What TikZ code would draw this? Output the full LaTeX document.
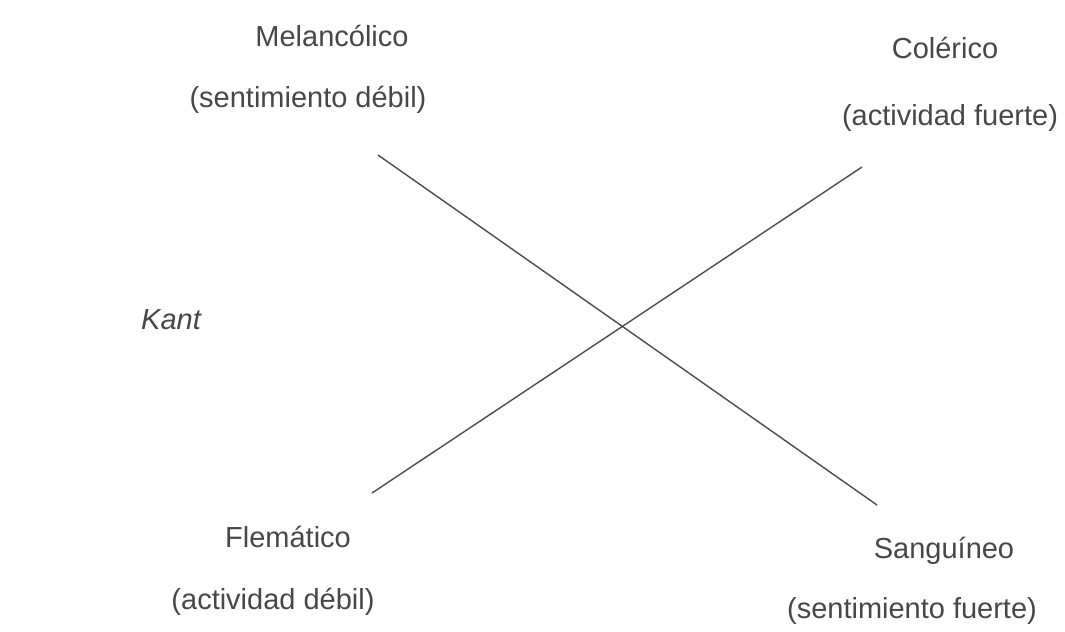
\documentclass[tikz,border=0pt]{standalone}
\usepackage{fontspec}
\setmainfont{Liberation Sans}
\begin{document}
\begin{tikzpicture}[x=0.02cm,y=-0.02cm,
  lbl/.style={font=\fontsize{16.5}{19}\selectfont, text=black!72, inner sep=0pt, anchor=center},
  ln/.style={draw=black!70, line width=0.8pt}]
\useasboundingbox (0,0) rectangle (1065,632);
\node[lbl] (mel) at (332,36) {Melancólico};
\node[lbl] (meld) at (308,100) {(sentimiento débil)};
\node[lbl] (col) at (945,48) {Colérico};
\node[lbl] (cold) at (950,118) {(actividad fuerte)};
\node[lbl] (kant) at (171,320) {\itshape Kant};
\node[lbl] (fle) at (288,537) {Flemático};
\node[lbl] (fled) at (273,602) {(actividad débil)};
\node[lbl] (san) at (944,551) {Sanguíneo};
\node[lbl] (sand) at (912,611) {(sentimiento fuerte)};
\coordinate (a1) at (378,155);
\coordinate (a2) at (877,505);
\coordinate (b1) at (372,493);
\coordinate (b2) at (862,167);
\draw[ln] (a1) -- (a2);
\draw[ln] (b1) -- (b2);
\end{tikzpicture}
\end{document}
